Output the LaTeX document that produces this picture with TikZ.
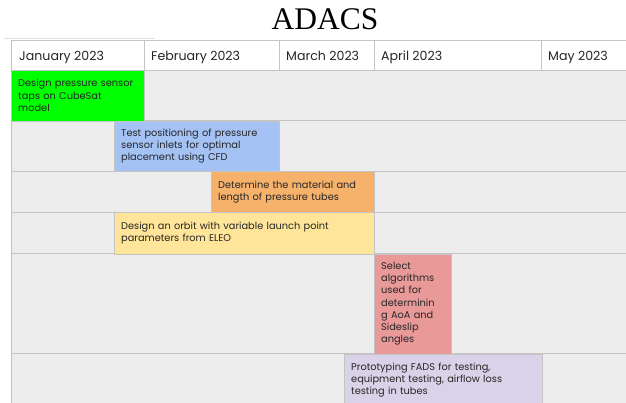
\documentclass[tikz,border=0pt]{standalone}
\usepackage{fontspec}
\setmainfont{Poppins}
\newfontfamily\titlefont{Liberation Serif}
\definecolor{gridline}{HTML}{C4C4C4}
\definecolor{bodybg}{HTML}{EDEDED}
\definecolor{taskgreen}{HTML}{00FF00}
\definecolor{taskblue}{HTML}{A4C2F4}
\definecolor{taskorange}{HTML}{F6B26B}
\definecolor{taskyellow}{HTML}{FFE599}
\definecolor{taskred}{HTML}{EA9999}
\definecolor{taskpurple}{HTML}{D9D2E9}

\begin{document}
\begin{tikzpicture}[
  x=1pt, y=-1pt,
  month/.style={anchor=base west, inner sep=0pt, text=black!85,
    font=\fontsize{12.6}{14}\selectfont},
  task/.style={draw=gridline, anchor=north west, inner xsep=7pt,
    inner ysep=0pt, align=left, text=black!85,
    font=\fontsize{9.8}{12.2}\selectfont},
]
\useasboundingbox (0,0) rectangle (626,402);
\begin{scope}
\clip (0,0) rectangle (626,402);
\node[font=\titlefont\fontsize{31.5}{33}\selectfont, inner sep=0pt] (title) at (325,19) {ADACS};
% grid
\fill[bodybg] (11,70) rectangle (630,410);
\foreach \y in {120.5,171,212,253.5,353.5}
  \draw[gridline] (11,\y) -- (630,\y);
\draw[gridline] (11,40) -- (11,410);
\draw[gridline!50] (4,38) -- (155,38);
\draw[gridline, fill=white] (11,40) rectangle (630,70);
\foreach \x in {144,279,374,541}
  \draw[gridline] (\x,40) -- (\x,70);
\node[month] (jan) at (19,60) {January 2023};
\node[month] (feb) at (151,60) {February 2023};
\node[month] (mar) at (286,60) {March 2023};
\node[month] (apr) at (381,60) {April 2023};
\node[month] (may) at (548,60) {May 2023};
% tasks
\node[task, fill=taskgreen, text width=119pt, minimum height=50.5pt] (taps) at (11,70)
  {Design pressure sensor\\taps on CubeSat\\model};
\node[task, fill=taskblue, text width=151pt, minimum height=50.5pt] (inlets) at (114,120.5)
  {Test positioning of pressure\\sensor inlets for optimal\\placement using CFD};
\node[task, fill=taskorange, text width=149pt, minimum height=41pt] (tubes) at (211,171)
  {Determine the material and\\length of pressure tubes};
\node[task, fill=taskyellow, text width=246pt, minimum height=41.5pt] (orbit) at (114,212)
  {Design an orbit with variable launch point\\parameters from ELEO};
\node[task, fill=taskred, text width=63pt, minimum height=100pt] (algo) at (374,253.5)
  {Select\\algorithms\\used for\\determinin\\g AoA and\\Sideslip\\angles};
\node[task, fill=taskpurple, text width=184pt, minimum height=53pt] (fads) at (344,353.5)
  {Prototyping FADS for testing,\\equipment testing, airflow loss\\testing in tubes};
\end{scope}
\end{tikzpicture}
\end{document}
